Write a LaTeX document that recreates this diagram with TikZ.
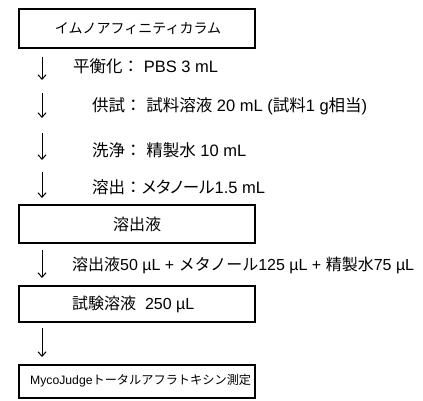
\documentclass[tikz,border=0pt]{standalone}
\usepackage{fontspec}
\setmainfont{Liberation Sans}
\newfontfamily\jp{Noto Sans CJK JP}
\newfontfamily\jpp[RawFeature={+palt}]{Noto Sans CJK JP}
\usetikzlibrary{arrows.meta}
\begin{document}
\begin{tikzpicture}[x=1pt,y=-1pt,
  boxx/.style={draw=black,line width=1.3pt},
  arr/.style={draw=black,line width=1pt,-{Straight Barb[length=4.5pt,width=8pt,line width=1pt]}},
  lbl/.style={anchor=west,inner sep=0pt,font=\fontsize{16.5}{18}\selectfont},
  ctr/.style={inner sep=0pt,font=\fontsize{16}{18}\selectfont}]
\useasboundingbox (0,0) rectangle (423,401);
% boxes
\draw[boxx] (19,9) rectangle (255,48);
\node[ctr,font=\fontsize{14}{16}\selectfont] (t1) at (138,29) {\jp イムノアフィニティカラム};
\draw[boxx] (19,205) rectangle (255,243);
\node[ctr] (t2) at (137,224) {\jp 溶出液};
\draw[boxx] (19,286) rectangle (255,322);
\node[lbl,font=\fontsize{16}{18}\selectfont] (t3) at (72,304) {{\jp 試験溶液}\ \ 250 µL};
\draw[boxx] (19,365) rectangle (255,398);
\node[lbl,font=\fontsize{12.2}{14}\selectfont] (t4) at (30,381) {MycoJudge{\jp トータルアフラトキシン測定}};
% arrows
\coordinate (a1s) at (42,57); \coordinate (a1e) at (42,80);
\coordinate (a2s) at (42,93); \coordinate (a2e) at (42,118);
\coordinate (a3s) at (42,133); \coordinate (a3e) at (42,160);
\coordinate (a4s) at (42,172); \coordinate (a4e) at (42,198);
\coordinate (a5s) at (42,250); \coordinate (a5e) at (42,278);
\coordinate (a6s) at (42,328); \coordinate (a6e) at (42,357);
\draw[arr] (a1s) -- (a1e);
\draw[arr] (a2s) -- (a2e);
\draw[arr] (a3s) -- (a3e);
\draw[arr] (a4s) -- (a4e);
\draw[arr] (a5s) -- (a5e);
\draw[arr] (a6s) -- (a6e);
% step labels
\node[lbl] (s1) at (73,66) {{\jp 平衡化：}\ PBS 3 mL};
\node[lbl] (s2) at (92,106) {{\jp 供試：}\ {\jp 試料溶液} 20 mL ({\jp 試料}1 g{\jp 相当})};
\node[lbl] (s3) at (92,150) {{\jp 洗浄：}\ {\jp 精製水} 10 mL};
\node[lbl] (s4) at (92,187) {{\jp 溶出：}{\jpp メタノール}1.5 mL};
\node[lbl,font=\fontsize{16}{18}\selectfont] (s5) at (72,265) {{\jp 溶出液}50 µL + {\jp メタノール}125 µL + {\jp 精製水}75 µL};
\end{tikzpicture}
\end{document}
